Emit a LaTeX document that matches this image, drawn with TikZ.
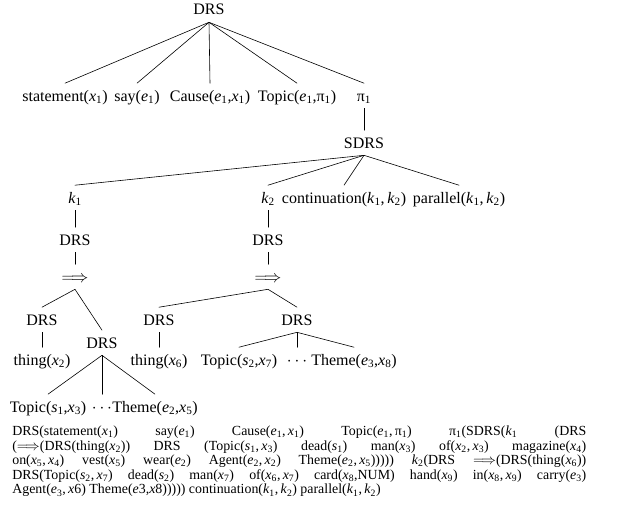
\documentclass[tikz,border=0pt]{standalone}
\usepackage{fontspec}
\setmainfont{Liberation Serif}
\usepackage{tikz}
\newcommand{\vs}[2]{\textit{#1}\textsubscript{#2}}

\begin{document}
\begin{tikzpicture}[line cap=round,line join=round,x=1pt,y=-1pt,line width=0.6pt,
  lbl/.style={anchor=base,inner sep=3.5pt,text height=14pt,text depth=3.5pt,font=\fontsize{16}{19}\selectfont}]
\useasboundingbox (0,0) rectangle (623,511);
\node[lbl] (root) at (209,15) {DRS};
\node[lbl] (stmt) at (65,101) {statement(\vs{x}{1})};
\node[lbl] (say) at (137,101) {say(\vs{e}{1})};
\node[lbl] (cause) at (210,101) {Cause(\vs{e}{1},\vs{x}{1})};
\node[lbl] (topic) at (297,101) {Topic(\vs{e}{1},π\textsubscript{1})};
\node[lbl] (pi) at (364,101) {π\textsubscript{1}};
\node[lbl] (sdrs) at (364,148) {SDRS};
\node[lbl] (ka) at (75,203) {\vs{k}{1}};
\node[lbl] (kb) at (268,203) {\vs{k}{2}};
\node[lbl] (cont) at (344,203) {continuation(\vs{k}{1},\,\vs{k}{2})};
\node[lbl] (par) at (459,203) {parallel(\vs{k}{1},\,\vs{k}{2})};
\node[lbl] (drsa) at (75,245) {DRS};
\node[lbl] (drsb) at (268,245) {DRS};
\node[lbl] (impa) at (75,282) {$\Longrightarrow$};
\node[lbl] (impb) at (268,282) {$\Longrightarrow$};
\node[lbl] (drsaa) at (42,325) {DRS};
\node[lbl] (drsab) at (102,348) {DRS};
\node[lbl] (thinga) at (42,365) {thing(\vs{x}{2})};
\node[lbl] (drsba) at (159,325) {DRS};
\node[lbl] (drsbb) at (297,325) {DRS};
\node[lbl] (thingb) at (159,365) {thing(\vs{x}{6})};
\node[lbl] (topa) at (48,412) {Topic(\vs{s}{1},\vs{x}{3})};
\node[lbl] (dotsa) at (102,412) {$\cdots$};
\node[lbl] (themea) at (155,412) {Theme(\vs{e}{2},\vs{x}{5})};
\node[lbl] (topb) at (239,365) {Topic(\vs{s}{2},\vs{x}{7})};
\node[lbl] (dotsb) at (297,365) {$\cdots$};
\node[lbl] (themeb) at (354,365) {Theme(\vs{e}{3},\vs{x}{8})};
\draw (root.south)-- (stmt.north);
\draw (root.south)-- (say.north);
\draw (root.south)-- (cause.north);
\draw (root.south)-- (topic.north);
\draw (root.south)-- (pi.north);
\draw (pi.south)-- (sdrs.north);
\draw (sdrs.south)-- (ka.north);
\draw (sdrs.south)-- (kb.north);
\draw (sdrs.south)-- (cont.north);
\draw (sdrs.south)-- (par.north);
\draw (ka.south)-- (drsa.north);
\draw (drsa.south)-- (impa.north);
\draw (impa.south)-- (drsaa.north);
\draw (impa.south)-- (drsab.north);
\draw (drsaa.south)-- (thinga.north);
\draw (drsab.south)-- (topa.north);
\draw (drsab.south)-- (dotsa.north);
\draw (drsab.south)-- (themea.north);
\draw (kb.south)-- (drsb.north);
\draw (drsb.south)-- (impb.north);
\draw (impb.south)-- (drsba.north);
\draw (impb.south)-- (drsbb.north);
\draw (drsba.south)-- (thingb.north);
\draw (drsbb.south)-- (topb.north);
\draw (drsbb.south)-- (dotsb.north);
\draw (drsbb.south)-- (themeb.north);
\node[anchor=base west,inner sep=0pt,font=\fontsize{13.9}{14.6}\selectfont] (flat) at (12,435.5) {\parbox[t]{574pt}{%
DRS(statement(\vs{x}{1}) say(\vs{e}{1}) Cause(\vs{e}{1},\,\vs{x}{1}) Topic(\vs{e}{1},\,π\textsubscript{1}) π\textsubscript{1}(SDRS(\vs{k}{1} (DRS\linebreak
($\Longrightarrow$(DRS(thing(\vs{x}{2})) DRS (Topic(\vs{s}{1},\,\vs{x}{3}) dead(\vs{s}{1}) man(\vs{x}{3}) of(\vs{x}{2},\,\vs{x}{3}) magazine(\vs{x}{4})\linebreak
on(\vs{x}{5},\,\vs{x}{4}) vest(\vs{x}{5}) wear(\vs{e}{2}) Agent(\vs{e}{2},\,\vs{x}{2}) Theme(\vs{e}{2},\,\vs{x}{5}))))) \vs{k}{2}(DRS $\Longrightarrow$(DRS(thing(\vs{x}{6}))\linebreak
DRS(Topic(\vs{s}{2},\,\vs{x}{7}) dead(\vs{s}{2}) man(\vs{x}{7}) of(\vs{x}{6},\,\vs{x}{7}) card(\vs{x}{8},NUM) hand(\vs{x}{9}) in(\vs{x}{8},\,\vs{x}{9}) carry(\vs{e}{3})\linebreak
Agent(\vs{e}{3},\,\textit{x}6) Theme(\textit{e}3,\textit{x}8))))) continuation(\vs{k}{1},\,\vs{k}{2}) parallel(\vs{k}{1},\,\vs{k}{2})}};
\end{tikzpicture}
\end{document}
